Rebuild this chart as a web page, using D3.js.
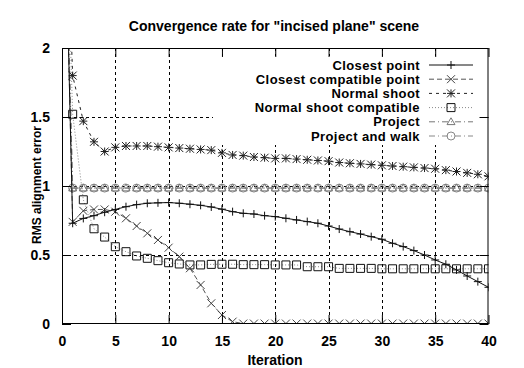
<!DOCTYPE html>
<html>
<head>
<meta charset="utf-8">
<script src="https://cdn.jsdelivr.net/npm/d3@7"></script>
<style>
body { margin: 0; background: #fff; }
text { font-family: "Liberation Sans", Arial, sans-serif; font-weight: bold; }
</style>
</head>
<body>
<svg width="524" height="368"></svg>
<script>
// iteration numbers (x)
const iterations = [0,1,2,3,4,5,6,7,8,9,10,11,12,13,14,15,16,17,18,19,20,
    21,22,23,24,25,26,27,28,29,30,31,32,33,34,35,36,37,38,39,40];

// RMS alignment error
const closestPoint = [4.0,0.73,0.765,0.785,0.81,0.83,0.85,0.865,0.875,0.878,0.88,
    0.875,0.868,0.86,0.848,0.832,0.814,0.802,0.797,0.785,0.778,
    0.766,0.754,0.742,0.73,0.71,0.688,0.669,0.652,0.633,0.614,
    0.585,0.561,0.532,0.50,0.464,0.433,0.392,0.348,0.307,0.266];
const closestCompatible = [4.0,0.74,0.82,0.83,0.83,0.814,0.766,0.71,0.657,0.609,0.553,
    0.488,0.404,0.283,0.15,0.065,0.017,0.003,0.003,0.003,0.003,
    0.003,0.003,0.003,0.003,0.003,0.003,0.003,0.003,0.003,0.003,
    0.003,0.003,0.003,0.003,0.003,0.003,0.003,0.003,0.003,0.003];
const normalShoot = [4.0,1.80,1.47,1.32,1.25,1.28,1.29,1.29,1.29,1.285,1.28,
    1.275,1.27,1.265,1.26,1.24,1.225,1.22,1.21,1.205,1.20,
    1.20,1.195,1.19,1.185,1.18,1.17,1.165,1.16,1.155,1.15,
    1.145,1.14,1.135,1.13,1.125,1.115,1.105,1.095,1.085,1.07];
const normalShootCompatible = [4.0,1.52,0.90,0.69,0.63,0.56,0.524,0.493,0.476,0.459,0.444,
    0.435,0.428,0.428,0.432,0.433,0.433,0.43,0.43,0.43,0.428,
    0.428,0.428,0.415,0.415,0.415,0.403,0.403,0.403,0.403,0.40,
    0.40,0.40,0.40,0.40,0.40,0.40,0.40,0.40,0.40,0.40];
const project = [4.0,0.985,0.985,0.985,0.985,0.985,0.985,0.985,0.985,0.985,0.985,
    0.985,0.985,0.985,0.985,0.985,0.985,0.985,0.985,0.985,0.985,
    0.985,0.985,0.985,0.985,0.985,0.985,0.985,0.985,0.985,0.985,
    0.985,0.985,0.985,0.985,0.985,0.985,0.985,0.985,0.985,0.985];
const projectWalk = [4.0,0.985,0.985,0.985,0.985,0.985,0.985,0.985,0.985,0.985,0.985,
    0.985,0.985,0.985,0.985,0.985,0.985,0.985,0.985,0.985,0.985,
    0.985,0.985,0.985,0.985,0.985,0.985,0.985,0.985,0.985,0.985,
    0.985,0.985,0.985,0.985,0.985,0.985,0.985,0.985,0.985,0.985];

const seriesNames = ["Closest point","Closest compatible point","Normal shoot",
    "Normal shoot compatible","Project","Project and walk"];
const xTicks = [0,5,10,15,20,25,30,35,40];
const yTicks = [0,0.5,1,1.5,2];

const margin = {top: 48, right: 35.5, bottom: 44, left: 62};
const width = 524 - margin.left - margin.right;
const height = 368 - margin.top - margin.bottom;

const svg = d3.select("svg");

const x = d3.scaleLinear().domain([0,40]).range([margin.left, margin.left + width]);
const y = d3.scaleLinear().domain([0,2]).range([margin.top + height, margin.top]);

const styles = [
    {data: closestPoint, line: "#111", dash: null, marker: "plus", mcol: "#111"},
    {data: closestCompatible, line: "#555", dash: "5,3", marker: "cross", mcol: "#444"},
    {data: normalShoot, line: "#222", dash: "3,4", marker: "star", mcol: "#222"},
    {data: normalShootCompatible, line: "#888", dash: "1,2", marker: "square", mcol: "#111"},
    {data: project, line: "#777", dash: "6,3,1,3", marker: "triangle", mcol: "#777"},
    {data: projectWalk, line: "#888", dash: "6,3,1,3", marker: "circle", mcol: "#888"}
];

// grid
const grid = svg.append("g").attr("stroke", "#000").attr("stroke-dasharray", "3,3").attr("stroke-width", 1);
xTicks.slice(1, -1).forEach(t => {
    grid.append("line").attr("x1", Math.round(x(t)) + 0.5).attr("x2", Math.round(x(t)) + 0.5)
        .attr("y1", y(2)).attr("y2", y(0));
});
yTicks.slice(1, -1).forEach(t => {
    grid.append("line").attr("x1", x(0)).attr("x2", x(40))
        .attr("y1", Math.round(y(t)) + 0.5).attr("y2", Math.round(y(t)) + 0.5);
});

// key background (opaque)
svg.append("rect").attr("x", 213).attr("y", 56).attr("width", x(40) - 213).attr("height", 89).attr("fill", "#fff");

svg.append("clipPath").attr("id", "clip").append("rect")
    .attr("x", x(0)).attr("y", y(2)).attr("width", width).attr("height", height);

function drawMarker(g, type, cx, cy, col) {
    const s = 4;
    if (type === "circle") {
        g.append("circle").attr("cx", cx).attr("cy", cy).attr("r", s)
            .attr("fill", "none").attr("stroke", col).attr("stroke-width", 1);
        return;
    }
    let d = "";
    if (type === "plus") d = `M${cx-s},${cy}H${cx+s}M${cx},${cy-s}V${cy+s}`;
    else if (type === "cross") d = `M${cx-s},${cy-s}L${cx+s},${cy+s}M${cx-s},${cy+s}L${cx+s},${cy-s}`;
    else if (type === "star") d = `M${cx-s},${cy}H${cx+s}M${cx},${cy-s}V${cy+s}M${cx-s},${cy-s}L${cx+s},${cy+s}M${cx-s},${cy+s}L${cx+s},${cy-s}`;
    else if (type === "square") d = `M${cx-s},${cy-s}H${cx+s}V${cy+s}H${cx-s}Z`;
    else if (type === "triangle") d = `M${cx},${cy-s}L${cx+s},${cy+s*0.7}H${cx-s}Z`;
    g.append("path").attr("d", d).attr("fill", "none").attr("stroke", col).attr("stroke-width", 1);
}

const plot = svg.append("g").attr("clip-path", "url(#clip)");
const lineGen = d3.line().x((d, i) => x(iterations[i])).y(d => y(d));

styles.slice().reverse().forEach(s => {
    plot.append("path").attr("d", lineGen(s.data)).attr("fill", "none")
        .attr("stroke", s.line).attr("stroke-width", 1)
        .attr("stroke-dasharray", s.dash);
    const mg = plot.append("g");
    s.data.forEach((v, i) => {
        if (i === 0) return;
        drawMarker(mg, s.marker, x(iterations[i]), y(v), s.mcol);
    });
});

// border
svg.append("rect").attr("x", x(0) + 0.5).attr("y", y(2) + 0.5)
    .attr("width", width - 1).attr("height", height - 1)
    .attr("fill", "none").attr("stroke", "#000");

// axes (ticks inward on all sides, labels outside)
const tl = 9;
const xAxisB = d3.axisBottom(x).tickValues(xTicks).tickSize(-tl).tickPadding(12).tickFormat(d3.format("d"));
const xAxisT = d3.axisTop(x).tickValues(xTicks).tickSize(-tl).tickFormat("");
const yAxisL = d3.axisLeft(y).tickValues(yTicks).tickSize(-tl).tickPadding(12).tickFormat(d => d);
const yAxisR = d3.axisRight(y).tickValues(yTicks).tickSize(-tl).tickFormat("");

function styleAxis(g) {
    g.select(".domain").remove();
    g.selectAll("text").attr("font-size", 14).attr("fill", "#000")
        .style("font-family", "'Liberation Sans', Arial, sans-serif").style("font-weight", "bold");
}
svg.append("g").attr("transform", `translate(0,${y(0)})`).call(xAxisB).call(styleAxis);
svg.append("g").attr("transform", `translate(0,${y(2)})`).call(xAxisT).call(styleAxis);
svg.append("g").attr("transform", `translate(${x(0)},0)`).call(yAxisL).call(styleAxis);
svg.append("g").attr("transform", `translate(${x(40)},0)`).call(yAxisR).call(styleAxis);

// titles
svg.append("text").attr("x", 274).attr("y", 31).attr("text-anchor", "middle")
    .attr("font-size", 14).text('Convergence rate for "incised plane" scene');
svg.append("text").attr("x", 275).attr("y", 365).attr("text-anchor", "middle")
    .attr("font-size", 14).text("Iteration");
svg.append("text").attr("transform", "translate(41,185) rotate(-90)").attr("text-anchor", "middle")
    .attr("font-size", 12).text("RMS alignment error");

// key
const key = svg.append("g");
styles.forEach((s, i) => {
    const ky = 65 + i * 14.2;
    key.append("text").attr("x", 420).attr("y", ky).attr("dy", "0.36em")
        .attr("text-anchor", "end").attr("font-size", 13).attr("letter-spacing", 0.4)
        .text(seriesNames[i]);
    key.append("line").attr("x1", 429).attr("x2", 473).attr("y1", ky).attr("y2", ky)
        .attr("stroke", s.line).attr("stroke-dasharray", s.dash);
    drawMarker(key, s.marker, 451, ky, s.mcol);
});
</script>
</body>
</html>
